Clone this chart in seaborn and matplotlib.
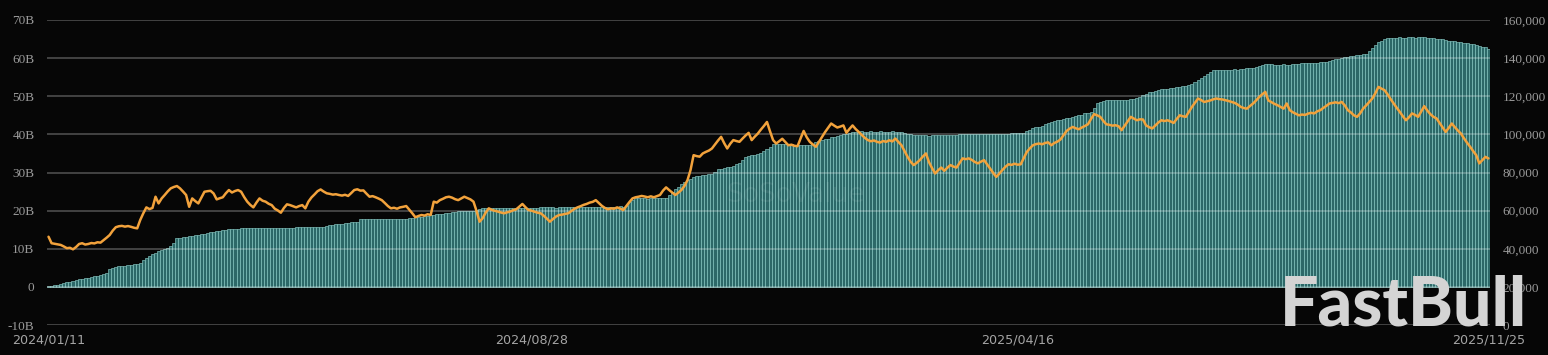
import matplotlib
matplotlib.use("Agg")
import matplotlib.pyplot as plt
import seaborn as sns
import pandas as pd

# cumulative net inflow, billions USD (one value per trading day)
flows = [
    0.1, 0.3, 0.5, 0.6, 0.8, 1.0, 1.2, 1.4, 1.6, 1.8,
    2.0, 2.1, 2.3, 2.4, 2.6, 2.8, 2.9, 3.1, 3.3, 3.6,
    4.8, 5.0, 5.2, 5.4, 5.5, 5.6, 5.7, 5.8, 5.9, 6.0,
    6.3, 7.0, 7.6, 8.1, 8.5, 8.9, 9.3, 9.6, 9.9, 10.2,
    10.8, 11.5, 12.8, 12.9, 13.0, 13.1, 13.3, 13.4, 13.6, 13.7,
    13.8, 14.0, 14.1, 14.3, 14.4, 14.6, 14.7, 14.9, 15.0, 15.1,
    15.2, 15.3, 15.3, 15.4, 15.4, 15.5, 15.5, 15.5, 15.5, 15.5,
    15.5, 15.4, 15.5, 15.5, 15.5, 15.4, 15.5, 15.5, 15.5, 15.5,
    15.5, 15.6, 15.6, 15.6, 15.7, 15.7, 15.7, 15.7, 15.8, 15.8,
    15.8, 16.0, 16.2, 16.3, 16.4, 16.5, 16.6, 16.7, 16.8, 16.9,
    17.0, 17.1, 17.7, 17.7, 17.8, 17.8, 17.8, 17.8, 17.8, 17.9,
    17.9, 17.8, 17.9, 17.9, 17.9, 17.9, 17.9, 17.9, 18.0, 18.1,
    18.2, 18.3, 18.4, 18.6, 18.7, 18.8, 18.9, 19.0, 19.1, 19.2,
    19.3, 19.5, 19.7, 19.7, 19.8, 19.8, 19.8, 19.9, 19.9, 19.9,
    20.2, 20.5, 20.7, 20.7, 20.7, 20.7, 20.6, 20.7, 20.7, 20.7,
    20.7, 20.7, 20.7, 20.6, 20.7, 20.7, 20.7, 20.7, 20.8, 20.8,
    20.8, 20.9, 20.9, 20.9, 20.9, 20.9, 20.8, 20.9, 20.9, 20.9,
    20.9, 20.9, 21.0, 21.0, 21.0, 21.0, 21.0, 21.0, 21.0, 21.0,
    21.0, 21.0, 21.0, 21.0, 21.0, 21.0, 21.0, 21.1, 21.0, 21.2,
    22.3, 22.8, 23.2, 23.2, 23.2, 23.2, 23.1, 23.2, 23.2, 23.2,
    23.2, 23.3, 23.2, 24.0, 24.9, 25.6, 26.3, 26.9, 27.5, 28.0,
    28.4, 28.8, 29.1, 29.2, 29.3, 29.4, 29.5, 29.6, 30.2, 30.8,
    31.0, 31.2, 31.4, 31.5, 31.8, 32.1, 32.4, 33.3, 34.1, 34.3,
    34.5, 34.7, 34.8, 35.0, 35.6, 36.2, 36.7, 37.6, 37.6, 37.5,
    37.6, 37.5, 37.4, 37.4, 37.3, 37.2, 37.3, 37.2, 37.3, 37.3,
    37.6, 37.9, 38.2, 38.5, 38.7, 38.9, 39.2, 39.4, 39.6, 39.8,
    40.0, 40.2, 40.4, 40.6, 40.7, 40.7, 40.8, 40.7, 40.7, 40.8,
    40.7, 40.7, 40.8, 40.7, 40.7, 40.7, 40.8, 40.7, 40.7, 40.7,
    40.4, 40.1, 40.0, 39.9, 39.9, 39.8, 39.8, 39.8, 39.7, 39.8,
    39.8, 39.8, 39.8, 39.8, 39.9, 39.9, 39.9, 39.9, 40.0, 40.0,
    40.0, 40.0, 40.0, 40.0, 40.1, 40.0, 40.0, 40.0, 40.1, 40.1,
    40.1, 40.1, 40.2, 40.2, 40.2, 40.3, 40.3, 40.3, 40.4, 40.4,
    40.8, 41.2, 41.6, 42.0, 42.0, 42.3, 42.6, 42.9, 43.2, 43.4,
    43.7, 43.9, 44.1, 44.3, 44.4, 44.6, 44.8, 45.0, 45.2, 45.5,
    45.7, 45.9, 47.0, 48.1, 48.5, 48.8, 49.0, 49.0, 49.0, 49.0,
    49.0, 49.0, 49.0, 49.0, 49.2, 49.4, 49.6, 49.8, 50.2, 50.7,
    51.0, 51.2, 51.5, 51.7, 51.8, 51.9, 52.0, 52.1, 52.2, 52.3,
    52.4, 52.6, 52.8, 52.9, 53.3, 53.7, 54.3, 54.8, 55.4, 55.9,
    56.4, 56.8, 56.9, 56.9, 56.9, 57.0, 57.0, 57.0, 57.1, 57.0,
    57.1, 57.2, 57.3, 57.4, 57.5, 57.7, 57.9, 58.1, 58.4, 58.4,
    58.4, 58.3, 58.3, 58.3, 58.4, 58.3, 58.3, 58.4, 58.5, 58.5,
    58.6, 58.6, 58.7, 58.7, 58.8, 58.8, 58.9, 59.0, 59.1, 59.3,
    59.5, 59.7, 59.9, 60.0, 60.2, 60.3, 60.5, 60.6, 60.8, 60.9,
    61.0, 61.2, 61.8, 62.6, 63.4, 64.1, 64.6, 65.1, 65.3, 65.4,
    65.4, 65.4, 65.5, 65.4, 65.4, 65.5, 65.5, 65.4, 65.5, 65.6,
    65.5, 65.4, 65.3, 65.2, 65.1, 65.0, 64.9, 64.7, 64.6, 64.5,
    64.4, 64.3, 64.1, 64.0, 63.9, 63.8, 63.6, 63.4, 63.2, 63.0, 62.8, 62.5,
]

# BTC price, thousands USD
prices = [
    46.3, 42.9, 42.6, 42.3, 42.0, 41.2, 40.3, 40.5, 39.7, 40.9,
    42.5, 42.9, 42.2, 42.5, 43.0, 42.8, 43.4, 43.2, 44.5, 45.8,
    47.2, 49.5, 51.3, 51.8, 52.0, 51.6, 51.9, 51.5, 51.0, 50.7,
    55.1, 58.6, 61.7, 60.8, 61.4, 67.3, 63.8, 66.4, 68.2, 70.1,
    71.7, 72.4, 72.9, 71.7, 70.0, 68.2, 62.0, 66.4, 65.0, 63.8,
    66.8, 69.9, 70.2, 70.4, 69.0, 65.9, 66.5, 67.0, 69.1, 70.8,
    69.5, 70.3, 70.8, 69.9, 67.1, 64.7, 63.0, 61.7, 64.2, 66.4,
    65.2, 64.7, 63.6, 62.9, 61.0, 60.1, 58.9, 61.4, 63.3, 62.9,
    62.3, 61.7, 62.4, 62.9, 61.2, 64.7, 66.9, 68.5, 70.2, 71.1,
    70.0, 69.1, 68.8, 68.4, 68.6, 68.2, 67.9, 68.3, 67.7, 69.2,
    70.8, 71.2, 70.5, 70.6, 68.9, 67.3, 67.6, 67.0, 66.3, 65.5,
    64.0, 62.4, 61.2, 61.5, 61.0, 61.7, 62.0, 62.4, 60.5, 58.6,
    56.5, 57.2, 57.7, 57.4, 58.1, 57.7, 64.7, 64.2, 65.5, 66.2,
    67.0, 67.3, 66.8, 66.0, 65.5, 66.4, 67.3, 66.6, 65.9, 64.7,
    59.8, 54.2, 56.0, 59.0, 61.2, 60.4, 59.9, 59.5, 59.0, 58.6,
    59.1, 59.5, 60.2, 60.7, 62.1, 63.5, 61.8, 60.3, 60.0, 59.4,
    58.9, 58.6, 57.3, 55.8, 54.2, 55.6, 56.9, 57.7, 57.9, 58.3,
    58.6, 59.8, 60.9, 61.7, 62.3, 63.0, 63.5, 64.2, 64.6, 65.5,
    64.0, 62.5, 61.4, 60.7, 61.2, 61.0, 61.7, 61.1, 60.3, 62.4,
    64.5, 66.4, 67.0, 67.3, 67.7, 67.4, 67.0, 67.5, 67.0, 67.6,
    68.2, 70.5, 72.2, 70.8, 69.5, 68.2, 69.4, 70.8, 72.9, 76.0,
    81.3, 89.1, 88.6, 88.3, 90.0, 90.8, 91.5, 92.6, 94.7, 96.8,
    98.7, 95.4, 92.6, 95.1, 97.0, 96.5, 96.1, 97.8, 99.4, 100.8,
    97.0, 98.8, 100.4, 102.5, 104.4, 106.5, 101.6, 97.0, 95.2, 96.4,
    97.7, 96.0, 94.3, 94.6, 94.0, 93.8, 97.9, 101.8, 98.5, 96.1,
    94.7, 93.5, 96.1, 98.7, 101.2, 103.5, 105.7, 104.6, 103.6, 104.1,
    104.7, 100.8, 102.9, 104.7, 102.8, 101.3, 99.7, 98.2, 97.0, 96.4,
    96.8, 96.1, 95.7, 96.5, 96.1, 96.9, 96.3, 97.8, 96.0, 94.3,
    91.3, 88.2, 85.6, 83.9, 85.1, 86.5, 88.4, 90.0, 85.4, 82.3,
    79.5, 81.2, 82.6, 80.9, 82.5, 83.9, 83.1, 82.6, 85.0, 87.4,
    87.0, 87.4, 86.6, 85.5, 84.8, 85.7, 86.5, 84.3, 82.0, 79.8,
    77.7, 79.4, 81.3, 83.0, 84.3, 84.0, 84.6, 84.1, 84.3, 87.5,
    90.8, 92.7, 94.3, 94.9, 95.2, 94.8, 95.5, 95.8, 94.3, 95.5,
    96.2, 97.3, 99.6, 101.8, 103.0, 103.9, 103.2, 102.7, 103.6, 104.4,
    105.3, 108.1, 110.6, 110.0, 109.2, 107.1, 105.3, 105.0, 104.6, 104.8,
    104.3, 102.2, 104.5, 106.9, 109.2, 108.3, 107.4, 107.9, 107.8, 104.7,
    103.8, 103.1, 104.6, 106.2, 107.4, 107.0, 107.4, 106.8, 106.0, 108.0,
    110.0, 109.5, 109.2, 111.8, 114.4, 116.6, 118.8, 118.0, 117.0, 117.4,
    117.8, 118.4, 118.8, 118.5, 118.3, 117.9, 117.5, 117.0, 116.5, 115.6,
    114.4, 113.8, 113.5, 114.9, 116.2, 117.8, 119.6, 121.0, 122.3, 117.8,
    116.9, 116.0, 115.3, 114.4, 113.5, 116.2, 112.7, 111.6, 110.8, 110.0,
    110.4, 110.2, 110.9, 111.3, 111.0, 112.1, 112.7, 113.9, 115.0, 116.2,
    116.5, 116.8, 116.4, 117.0, 115.2, 112.7, 111.5, 110.0, 109.2, 111.0,
    113.5, 115.2, 117.0, 118.8, 121.6, 124.9, 124.0, 123.2, 121.0, 118.5,
    116.2, 113.9, 111.8, 109.5, 107.4, 109.0, 111.0, 110.2, 109.2, 112.0,
    114.8, 112.5, 110.6, 109.2, 108.4, 106.0, 103.7, 101.3, 103.4, 105.7,
    103.8, 102.0, 100.4, 97.9, 95.6, 93.5, 91.2, 89.1, 84.8, 86.5, 88.2, 87.4,
]

date_labels = ["2024/01/11", "2024/08/28", "2025/04/16", "2025/11/25"]
label_days = [0, 158, 317, 471]
left_ticks = [-10, 0, 10, 20, 30, 40, 50, 60, 70]
right_ticks = [0, 20000, 40000, 60000, 80000, 100000, 120000, 140000, 160000]

df = pd.DataFrame({
    "day": range(len(flows)),
    "flow": flows,
    "price": [p * 1000 for p in prices],
})

bg = "#060606"
sns.set_theme(style="dark", rc={"axes.facecolor": bg, "figure.facecolor": bg})

W, H = 1548, 355
fig = plt.figure(figsize=(W / 100, H / 100), dpi=100)
ax = fig.add_axes([47 / W, 30 / H, (1490 - 47) / W, 305 / H])

sns.barplot(data=df, x="day", y="flow", ax=ax, color="#2c6868", saturation=1,
            width=1.0, edgecolor="#95dad4", linewidth=0.4)
ax.set_ylim(-10, 70)
ax.set_yticks(left_ticks)
ax.set_yticklabels([f"{v}B" if v else "0" for v in left_ticks])
ax.set_axisbelow(False)
ax.yaxis.grid(True, color="white", alpha=0.24, lw=1.4)
ax.xaxis.grid(False)

ax2 = ax.twinx()
sns.lineplot(data=df, x="day", y="price", ax=ax2, color="#f2a23c", lw=1.8)
ax2.set_ylim(0, 160000)
ax2.set_yticks(right_ticks)
ax2.set_yticklabels([f"{v:,}" for v in right_ticks])
ax2.grid(False)

ax.set_xlim(-0.5, len(flows) - 0.5)
ax.set_xticks(label_days)
ax.set_xticklabels(date_labels)
ax.set_xlabel("")
ax.set_ylabel("")
ax2.set_ylabel("")

for a in (ax, ax2):
    for s in a.spines.values():
        s.set_visible(False)
    a.tick_params(length=0, colors="#9a9a9a")

ax.tick_params(axis="y", pad=9, labelsize=9.5)
ax2.tick_params(axis="y", pad=9, labelsize=9.5)
ax.tick_params(axis="x", pad=6, labelsize=9.2, labelcolor="#a4a4a4")
for t in ax.get_yticklabels() + ax2.get_yticklabels():
    t.set_fontfamily(["Liberation Serif", "DejaVu Serif"])
for t in ax.get_xticklabels():
    t.set_fontfamily(["DejaVu Sans"])

# watermarks
fig.text(795 / W, 1 - 195 / H, "SoSoValue", fontsize=19, color="white", alpha=0.07,
         ha="center", va="center", family=["DejaVu Sans"])
fig.text(1280 / W, 1 - 326 / H, "FastBull", fontsize=49, color="#d4d4d4",
         ha="left", va="baseline", weight="black", family=["Lato", "DejaVu Sans"])

fig.savefig("out.png", dpi=100, facecolor=bg)
